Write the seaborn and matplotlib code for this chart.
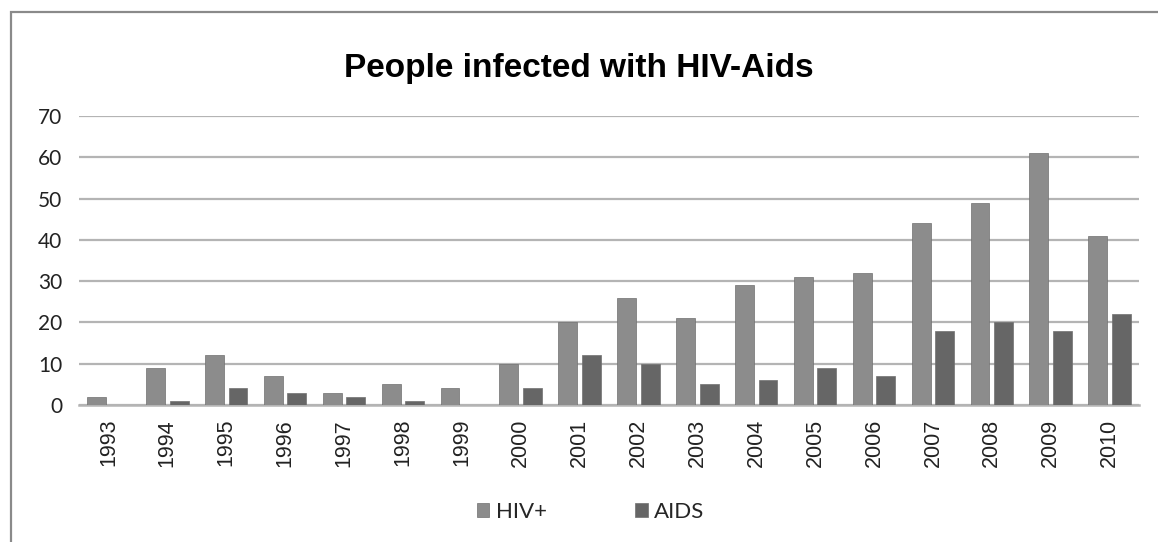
import pandas as pd
import matplotlib.pyplot as plt
import seaborn as sns
from matplotlib.patches import Rectangle

years = [str(y) for y in range(1993, 2011)]
hiv = [2, 9, 12, 7, 3, 5, 4, 10, 20, 26, 21, 29, 31, 32, 44, 49, 61, 41]
aids = [0, 1, 4, 3, 2, 1, 0, 4, 12, 10, 5, 6, 9, 7, 18, 20, 18, 22]
series = ["HIV+", "AIDS"]
colors = ["#8c8c8c", "#666666"]

df = pd.DataFrame({
    "year": years * 2,
    "value": hiv + aids,
    "kind": [series[0]] * len(years) + [series[1]] * len(years),
})

sns.set_style("white")
plt.rcParams["font.family"] = ["Lato", "DejaVu Sans"]

fig = plt.figure(figsize=(11.58, 5.42), dpi=100)
ax = fig.add_axes([79 / 1158, 1 - 405 / 542, 1060 / 1158, 289 / 542])

sns.barplot(data=df, x="year", y="value", hue="kind", palette=colors,
            width=0.8, gap=0.2, edgecolor="#707070", linewidth=0.5,
            ax=ax, zorder=3)

ax.set_ylim(0, 70)
ax.set_xlim(-0.5, len(years) - 0.5)
ax.set_yticks(range(0, 71, 10))
ax.yaxis.grid(True, color="#b4b4b4", linewidth=1.6, zorder=0)
ax.set_axisbelow(True)
for s in ["top", "right", "left"]:
    ax.spines[s].set_visible(False)
ax.spines["bottom"].set_color("#b4b4b4")
ax.spines["bottom"].set_linewidth(1.8)
ax.set_xlabel("")
ax.set_ylabel("")
ax.tick_params(axis="both", length=0)
ax.tick_params(axis="y", pad=12, labelsize=15, labelcolor="#222222")
plt.setp(ax.get_xticklabels(), rotation=90, family="Liberation Sans",
         fontsize=15.5, color="#222222")
ax.tick_params(axis="x", pad=10)

fig.text(0.5, 1 - 68 / 542, "People infected with HIV-Aids", ha="center",
         va="center", fontsize=24, fontweight="bold",
         family="Liberation Sans", color="#000000")

handles, labels = ax.get_legend_handles_labels()
ax.legend_.remove()
fig.legend(handles, labels, loc="center", bbox_to_anchor=(0.51, 1 - 512 / 542),
           ncol=2, frameon=False, fontsize=16, handlelength=0.55,
           handleheight=0.55, handletextpad=0.3, columnspacing=4.0)

fig.patches.append(Rectangle((10.5 / 1158, -0.1), 1.2, 1.1 - 11.5 / 542 + 0.0,
                             transform=fig.transFigure, fill=False,
                             edgecolor="#8a8a8a", linewidth=1.6))

fig.savefig("out.png", dpi=100)
